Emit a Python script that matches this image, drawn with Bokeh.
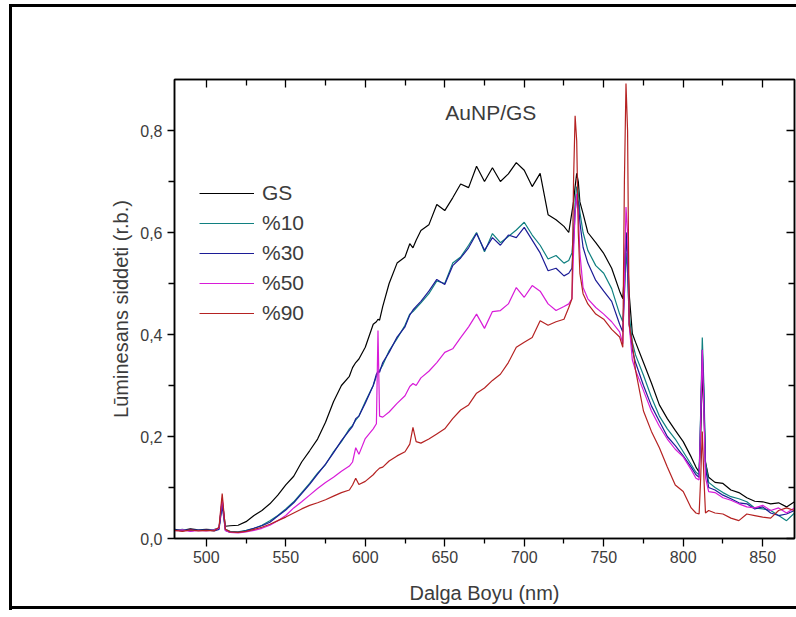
from bokeh.plotting import figure
from bokeh.models import (LinearAxis, FixedTicker, CustomJSTickFormatter, Range1d,
                          Label, Legend, LegendItem, CustomLabelingPolicy)
from bokeh.embed import file_html
from bokeh.resources import INLINE

# ---------------- data ----------------
wavelength = [480, 485, 490, 495, 500, 505, 508, 510, 512, 515,
              520, 525, 530, 535, 540, 545, 550, 555, 560, 565,
              570, 575, 580, 585, 590, 592, 594, 596, 600, 605,
              607, 608, 609, 611, 615, 620, 625, 628, 630, 632,
              635, 640, 645, 650, 655, 660, 665, 670, 675, 680,
              685, 690, 695, 700, 705, 710, 715, 720, 725, 728,
              730, 731, 732, 733, 734, 735, 737, 740, 745, 750,
              755, 760, 762, 763, 764, 765, 766, 768, 770, 775,
              780, 785, 790, 795, 800, 805, 808, 810, 811, 812,
              813, 814, 816, 820, 825, 830, 835, 840, 845, 850,
              855, 860, 865, 870]

gs = [0.018, 0.016, 0.019, 0.017, 0.018, 0.017, 0.020, 0.075, 0.024, 0.025,
      0.026, 0.033, 0.045, 0.055, 0.068, 0.085, 0.105, 0.122, 0.150, 0.172,
      0.195, 0.228, 0.268, 0.300, 0.318, 0.335, 0.345, 0.352, 0.375, 0.420,
      0.425, 0.430, 0.428, 0.455, 0.500, 0.540, 0.552, 0.578, 0.570, 0.585,
      0.604, 0.615, 0.655, 0.643, 0.668, 0.695, 0.688, 0.730, 0.700, 0.727,
      0.700, 0.715, 0.737, 0.722, 0.690, 0.716, 0.635, 0.625, 0.612, 0.600,
      0.640, 0.660, 0.690, 0.716, 0.700, 0.660, 0.637, 0.600, 0.580, 0.559,
      0.530, 0.485, 0.470, 0.520, 0.600, 0.560, 0.480, 0.402, 0.385, 0.345,
      0.305, 0.262, 0.235, 0.212, 0.190, 0.160, 0.140, 0.130, 0.200, 0.330,
      0.250, 0.150, 0.120, 0.110, 0.108, 0.095, 0.090, 0.080, 0.073, 0.072,
      0.068, 0.070, 0.062, 0.072]

p10 = [0.016, 0.018, 0.015, 0.017, 0.016, 0.018, 0.020, 0.070, 0.018, 0.014,
       0.013, 0.016, 0.020, 0.026, 0.035, 0.045, 0.058, 0.072, 0.090, 0.108,
       0.128, 0.145, 0.170, 0.190, 0.215, 0.222, 0.232, 0.240, 0.268, 0.300,
       0.318, 0.325, 0.330, 0.340, 0.368, 0.392, 0.418, 0.440, 0.445, 0.452,
       0.462, 0.480, 0.505, 0.500, 0.540, 0.552, 0.575, 0.600, 0.562, 0.598,
       0.580, 0.592, 0.605, 0.620, 0.595, 0.575, 0.548, 0.555, 0.540, 0.545,
       0.560, 0.600, 0.660, 0.690, 0.680, 0.640, 0.600, 0.565, 0.535, 0.520,
       0.490, 0.440, 0.425, 0.480, 0.560, 0.520, 0.440, 0.385, 0.360, 0.320,
       0.277, 0.240, 0.215, 0.195, 0.170, 0.145, 0.130, 0.125, 0.250, 0.394,
       0.300, 0.150, 0.110, 0.100, 0.090, 0.082, 0.078, 0.072, 0.060, 0.058,
       0.055, 0.045, 0.035, 0.050]

p30 = [0.017, 0.015, 0.018, 0.016, 0.017, 0.015, 0.018, 0.065, 0.016, 0.012,
       0.012, 0.015, 0.020, 0.025, 0.032, 0.044, 0.056, 0.070, 0.088, 0.106,
       0.126, 0.146, 0.168, 0.192, 0.212, 0.220, 0.235, 0.240, 0.265, 0.300,
       0.322, 0.328, 0.326, 0.345, 0.365, 0.395, 0.415, 0.438, 0.448, 0.455,
       0.465, 0.485, 0.508, 0.498, 0.535, 0.550, 0.570, 0.598, 0.565, 0.590,
       0.575, 0.595, 0.590, 0.610, 0.585, 0.560, 0.525, 0.530, 0.515, 0.520,
       0.530, 0.580, 0.640, 0.670, 0.660, 0.620, 0.571, 0.540, 0.506, 0.485,
       0.465, 0.420, 0.405, 0.480, 0.600, 0.540, 0.420, 0.370, 0.345, 0.300,
       0.260, 0.230, 0.200, 0.182, 0.162, 0.140, 0.125, 0.120, 0.240, 0.370,
       0.280, 0.140, 0.100, 0.095, 0.085, 0.078, 0.070, 0.068, 0.058, 0.062,
       0.050, 0.045, 0.048, 0.055]

p50 = [0.015, 0.017, 0.014, 0.016, 0.015, 0.017, 0.020, 0.080, 0.016, 0.012,
       0.011, 0.013, 0.016, 0.020, 0.026, 0.035, 0.045, 0.060, 0.072, 0.085,
       0.098, 0.110, 0.120, 0.132, 0.142, 0.150, 0.178, 0.165, 0.196, 0.215,
       0.225, 0.408, 0.240, 0.238, 0.248, 0.265, 0.280, 0.298, 0.304, 0.300,
       0.315, 0.328, 0.345, 0.365, 0.372, 0.394, 0.415, 0.440, 0.412, 0.445,
       0.447, 0.460, 0.492, 0.473, 0.496, 0.485, 0.460, 0.447, 0.455, 0.460,
       0.470, 0.560, 0.640, 0.676, 0.640, 0.560, 0.492, 0.470, 0.453, 0.440,
       0.425, 0.405, 0.382, 0.500, 0.650, 0.600, 0.420, 0.350, 0.330, 0.290,
       0.250, 0.220, 0.195, 0.175, 0.160, 0.135, 0.118, 0.115, 0.230, 0.370,
       0.250, 0.120, 0.092, 0.090, 0.080, 0.075, 0.068, 0.062, 0.060, 0.065,
       0.055, 0.060, 0.050, 0.060]

p90 = [0.016, 0.014, 0.017, 0.015, 0.016, 0.015, 0.022, 0.088, 0.018, 0.013,
       0.012, 0.014, 0.018, 0.022, 0.028, 0.035, 0.042, 0.050, 0.058, 0.065,
       0.070, 0.076, 0.083, 0.090, 0.095, 0.105, 0.118, 0.106, 0.112, 0.125,
       0.132, 0.135, 0.138, 0.140, 0.152, 0.162, 0.170, 0.185, 0.218, 0.190,
       0.187, 0.195, 0.205, 0.215, 0.235, 0.252, 0.262, 0.285, 0.295, 0.310,
       0.322, 0.345, 0.375, 0.385, 0.394, 0.427, 0.418, 0.425, 0.430, 0.453,
       0.470, 0.700, 0.829, 0.780, 0.600, 0.520, 0.480, 0.460, 0.440, 0.430,
       0.410, 0.395, 0.375, 0.700, 0.892, 0.800, 0.420, 0.382, 0.330, 0.250,
       0.210, 0.178, 0.140, 0.105, 0.092, 0.060, 0.050, 0.048, 0.120, 0.210,
       0.120, 0.050, 0.055, 0.050, 0.048, 0.040, 0.035, 0.048, 0.045, 0.042,
       0.040, 0.055, 0.060, 0.055]

series_names = ["GS", "%10", "%30", "%50", "%90"]
series_values = [gs, p10, p30, p50, p90]
series_colors = ["#000000", "#108080", "#1c1c96", "#d81cd8", "#b52222"]

x_major = [500, 550, 600, 650, 700, 750, 800, 850]
x_minor = [525, 575, 625, 675, 725, 775, 825]
y_major = [0.0, 0.2, 0.4, 0.6, 0.8]
y_minor = [0.1, 0.3, 0.5, 0.7]

FONT = "Liberation Sans"
TXT = "#3c3c3c"

p = figure(width=796, height=617, output_backend="svg", toolbar_location=None,
           x_range=Range1d(480, 870), y_range=Range1d(0, 0.9),
           x_axis_type=None, y_axis_type=None,
           min_border_left=174, min_border_right=2,
           min_border_top=79, min_border_bottom=79)
p.grid.visible = False
p.outline_line_color = "black"
p.outline_line_width = 1.5
p.background_fill_color = "white"
p.border_fill_color = None
# outer picture frame (drawn behind the transparent border area)
p.styles = {
    "background-color": "white",
    "background-image": ("linear-gradient(#000,#000), linear-gradient(#000,#000), "
                         "linear-gradient(#000,#000)"),
    "background-size": "3px 606px, 800px 3px, 800px 3px",
    "background-position": "9px 4px, 9px 4px, 9px 606px",
    "background-repeat": "no-repeat",
}

fmt = CustomJSTickFormatter(code="return tick.toFixed(1).replace('.', ',');")


def style(ax):
    ax.axis_line_color = "black"
    ax.axis_line_width = 1.5
    ax.major_tick_line_color = "black"
    ax.minor_tick_line_color = "black"
    ax.major_tick_line_width = 1.3
    ax.minor_tick_line_width = 1.3
    ax.major_label_text_font = FONT
    ax.major_label_text_font_size = "16px"
    ax.major_label_text_color = TXT
    ax.axis_label_text_font = FONT
    ax.axis_label_text_font_size = "20px"
    ax.axis_label_text_font_style = "normal"
    ax.axis_label_text_color = TXT


def bare(ax):
    # tick-only frame axis: no labels drawn, no space reserved
    ax.major_label_policy = CustomLabelingPolicy(
        code="for (const i of indices) indices.unset(i)")
    ax.major_label_text_font_size = "0px"
    ax.major_label_standoff = 0
    ax.major_tick_out = 0
    ax.minor_tick_out = 0
    ax.major_tick_in = 8
    ax.minor_tick_in = 6


xb = LinearAxis(ticker=FixedTicker(ticks=x_major, minor_ticks=x_minor),
                axis_label="Dalga Boyu (nm)")
style(xb)
xb.major_tick_out = 8
xb.major_tick_in = 0
xb.minor_tick_out = 5
xb.minor_tick_in = 0
xb.major_label_standoff = 4
xb.axis_label_standoff = 16
p.add_layout(xb, "below")

xt = LinearAxis(ticker=FixedTicker(ticks=x_major, minor_ticks=x_minor))
style(xt)
bare(xt)
p.add_layout(xt, "above")

yl = LinearAxis(ticker=FixedTicker(ticks=y_major, minor_ticks=y_minor),
                axis_label="Lūminesans siddeti (r.b.)", formatter=fmt)
style(yl)
yl.major_tick_out = 7
yl.major_tick_in = 0
yl.minor_tick_out = 6
yl.minor_tick_in = 0
yl.major_label_standoff = 5
yl.axis_label_standoff = 5
p.add_layout(yl, "left")

yr = LinearAxis(ticker=FixedTicker(ticks=y_major, minor_ticks=y_minor))
style(yr)
bare(yr)
p.add_layout(yr, "right")

items = []
for name, vals, col in zip(series_names, series_values, series_colors):
    r = p.line(wavelength, vals, line_color=col, line_width=1.2)
    items.append(LegendItem(label=name, renderers=[r]))

legend = Legend(items=items, location=(25, 210), padding=0, margin=0,
                spacing=0, glyph_width=55, glyph_height=30, label_height=30,
                label_standoff=8, border_line_color=None,
                background_fill_alpha=0, label_text_font=FONT,
                label_text_font_size="21px", label_text_color=TXT)
p.add_layout(legend)

p.add_layout(Label(x=679, y=0.835, text="AuNP/GS", text_align="center",
                   text_baseline="middle", text_font=FONT,
                   text_font_size="21px", text_color=TXT))

open("out.html", "w").write(file_html(p, INLINE))
